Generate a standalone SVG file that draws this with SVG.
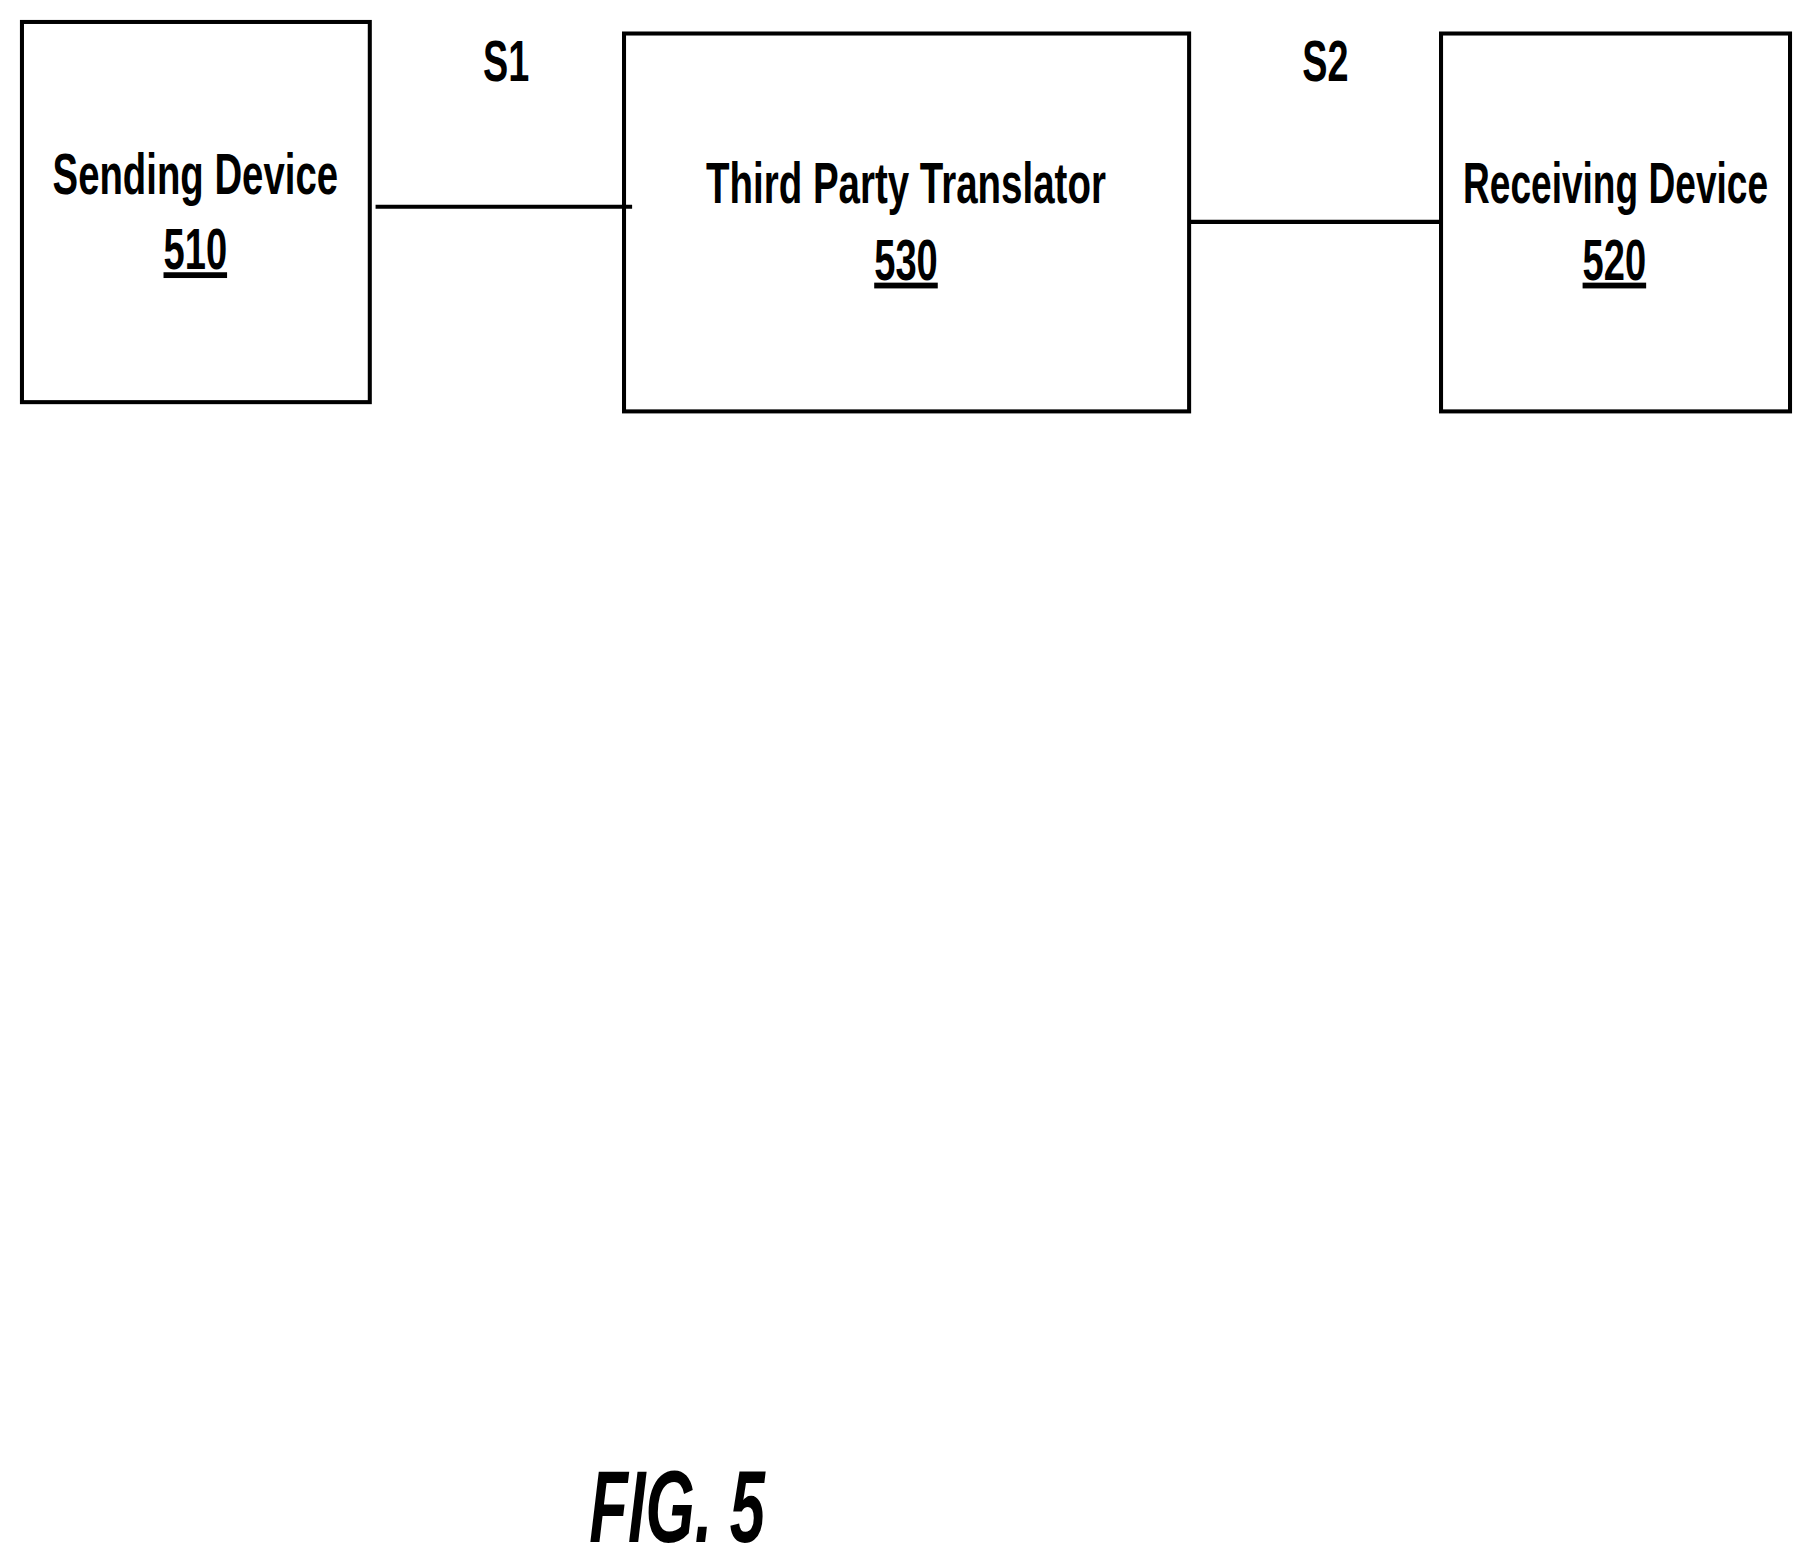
<svg xmlns="http://www.w3.org/2000/svg" width="1812" height="1564" viewBox="0 0 1812 1564">
<style>
.b{fill:none;stroke:#000;stroke-width:3.5}
.t{font-family:"Liberation Sans",Arial,sans-serif;font-weight:bold;font-size:50px;fill:#000;text-anchor:middle}
.u{text-decoration:underline}
</style>
<rect width="1812" height="1564" fill="#fff"/>
<g transform="scale(1.1556)">
<g id="connectors">
<line class="b" x1="325" y1="179" x2="547" y2="179"/>
<line class="b" x1="1029" y1="192" x2="1247" y2="192"/>
<text class="t" x="438" y="70" textLength="40" lengthAdjust="spacingAndGlyphs">S1</text>
<text class="t" x="1147" y="70" textLength="40" lengthAdjust="spacingAndGlyphs">S2</text>
</g>
<g id="n510">
<rect class="b" x="19" y="19" width="301" height="329"/>
<text class="t" x="169" y="168" textLength="247" lengthAdjust="spacingAndGlyphs">Sending Device</text>
<text class="t u" x="169" y="233" textLength="55" lengthAdjust="spacingAndGlyphs">510</text>
</g>
<g id="n530">
<rect class="b" x="540" y="29" width="489" height="327"/>
<text class="t" x="784" y="176" textLength="346" lengthAdjust="spacingAndGlyphs">Third Party Translator</text>
<text class="t u" x="784" y="242" textLength="55" lengthAdjust="spacingAndGlyphs">530</text>
</g>
<g id="n520">
<rect class="b" x="1247" y="29" width="302" height="327"/>
<text class="t" x="1398" y="176" textLength="264" lengthAdjust="spacingAndGlyphs">Receiving Device</text>
<text class="t u" x="1397" y="242" textLength="55" lengthAdjust="spacingAndGlyphs">520</text>
</g>
<text class="t" x="586" y="1334" style="font-size:88px;font-style:italic" textLength="152" lengthAdjust="spacingAndGlyphs">FIG. 5</text>
</g>
</svg>
